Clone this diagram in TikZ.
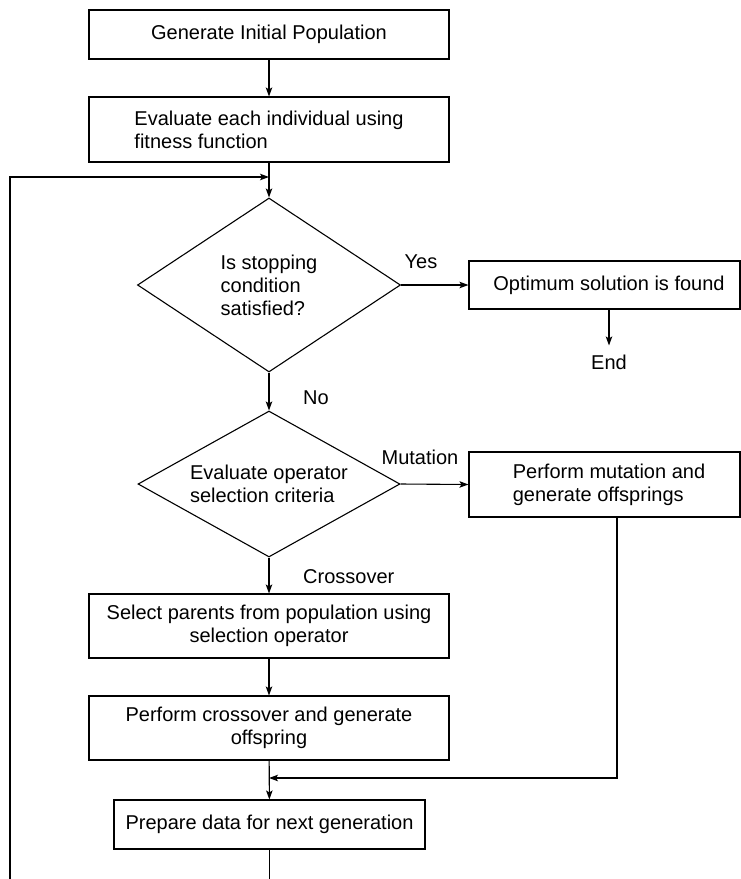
\documentclass[tikz,border=0pt]{standalone}
\usepackage{fontspec}
\setmainfont{Liberation Sans}
\usetikzlibrary{shapes.geometric,arrows.meta}
\begin{document}
\begin{tikzpicture}[x=1pt,y=-1pt,
  every node/.style={font=\fontsize{20}{23}\selectfont, text=black},
  box/.style={draw, line width=1.1pt, inner sep=0pt, align=center},
  dia/.style={draw, diamond, line width=1.1pt, inner sep=0pt, align=left},
  lbl/.style={inner sep=0pt},
  arr/.style={line width=1.1pt, -{Stealth[length=9pt,width=6.5pt,inset=2pt]}},
  ln/.style={line width=1.1pt}]
\useasboundingbox (0,0) rectangle (741,879);

\node[box, minimum width=360, minimum height=49] (b1) at (269,34.5) {Generate Initial Population};
\node[box, minimum width=360, minimum height=65, align=left] (b2) at (269,129.5) {Evaluate each individual using\\fitness function};
\node[dia, aspect=1.51, minimum width=263, minimum height=174] (d1) at (269,285) {Is stopping\\condition\\satisfied?};
\node[box, minimum width=271, minimum height=48] (opt) at (604.5,285) {\hspace*{9pt}Optimum solution is found};
\node[lbl] (endn) at (609,362) {End};
\node[dia, aspect=1.8, minimum width=262, minimum height=146] (d2) at (269,484) {Evaluate operator\\selection criteria};
\node[box, minimum width=271, minimum height=65, align=left] (mut) at (604.5,484.5) {\hspace*{9pt}Perform mutation and\\\hspace*{9pt}generate offsprings};
\node[box, minimum width=360, minimum height=64] (sel) at (269,626) {Select parents from population using\\selection operator};
\node[box, minimum width=360, minimum height=64] (cro) at (269,728) {Perform crossover and generate\\offspring};
\node[box, minimum width=311, minimum height=49] (prep) at (269.5,824.5) {Prepare data for next generation};

\node[lbl] (yes) at (421,262) {Yes};
\node[lbl, anchor=west] (no) at (303,398) {No};
\node[lbl] (mutl) at (420,457) {Mutation};
\node[lbl, anchor=west] (crol) at (303,577) {Crossover};

\coordinate (j) at (269,177);
\coordinate (m) at (269,778);
\coordinate (lb) at (10,900);

\draw[arr] (b1) -- (b2);
\draw[arr] (b2) -- (d1.north);
\draw[arr] (d1.east) -- (opt.west);
\draw[arr] ([xshift=4.5pt]opt.south) -- ([yshift=9pt]endn.north);
\draw[arr] (d1.south) -- (d2.north);
\draw[arr] (d2.east) -- (mut.west);
\draw[arr] (d2.south) -- (sel.north);
\draw[arr] (sel) -- (cro);
\draw[arr] (cro) -- (prep);
\draw[arr] ([xshift=12.5pt]mut.south) |- (m);
\begin{scope}
\clip (0,0) rectangle (741,879);
\draw[arr] (prep.south) |- (lb) |- (j);
\end{scope}
\end{tikzpicture}
\end{document}
